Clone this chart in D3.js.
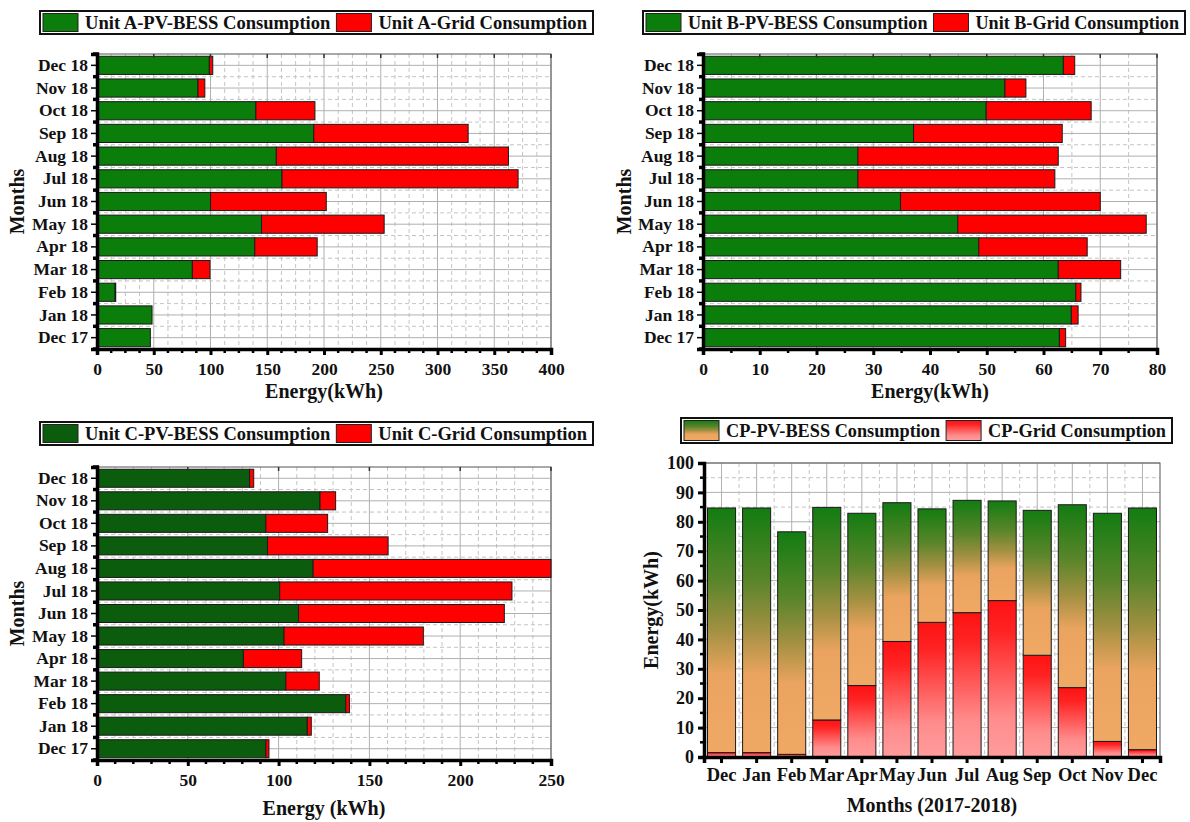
<!DOCTYPE html>
<html>
<head>
<meta charset="utf-8">
<script src="https://cdn.jsdelivr.net/npm/d3@7"></script>
<style>
  body { margin: 0; background: #fff; }
  text { font-family: "Liberation Serif", "Times New Roman", serif; font-weight: bold; fill: #111; }
</style>
</head>
<body>
<svg id="chart" width="1190" height="822"></svg>
<script>
// data
const monthsH = ["Dec 17", "Jan 18", "Feb 18", "Mar 18", "Apr 18", "May 18", "Jun 18",
  "Jul 18", "Aug 18", "Sep 18", "Oct 18", "Nov 18", "Dec 18"];

const unitA_pv = [47, 48.5, 16, 84, 139, 145, 100, 163, 158, 191, 140, 89, 99];
const unitA_grid = [0, 0, 0.5, 15.5, 55, 108, 102, 208, 204.5, 136, 52, 6, 3];

const unitB_pv = [62.8, 64.9, 65.7, 62.6, 48.6, 44.9, 34.8, 27.3, 27.3, 37.1, 49.9, 53.2, 63.5];
const unitB_grid = [1.1, 1.2, 0.9, 11.0, 19.1, 33.2, 35.2, 34.7, 35.3, 26.2, 18.5, 3.7, 2.0];

const unitC_pv = [93, 115.8, 137, 104, 80.6, 103, 111, 100.6, 119, 93.9, 93, 122.8, 84];
const unitC_grid = [1.7, 2.2, 2, 18.4, 32.1, 76.7, 113.3, 127.9, 131, 66.4, 34, 8.6, 2.3];

const monthsV = ["Dec", "Jan", "Feb", "Mar", "Apr", "May", "Jun", "Jul", "Aug", "Sep", "Oct", "Nov", "Dec"];
const cp_grid = [1.5, 1.5, 0.9, 12.6, 24.3, 39.3, 45.8, 49.1, 53.2, 34.6, 23.6, 5.3, 2.5];
const cp_pv = [83.2, 83.2, 75.7, 72.3, 58.6, 47.2, 38.6, 38.2, 33.9, 49.3, 62.2, 77.6, 82.2];

const svg = d3.select("#chart");
svg.append("rect").attr("width", 1190).attr("height", 822).attr("fill", "#fff");

// gradients for the CP panel
const defs = svg.append("defs");
const gPv = defs.append("linearGradient").attr("id", "gradPv")
  .attr("x1", 0).attr("y1", 0).attr("x2", 0).attr("y2", 1);
[[0, "#137c12"], [0.3, "#5a852a"], [0.5, "#a39042"], [0.68, "#eba45f"], [1, "#f0a865"]]
  .forEach(([o, c]) => gPv.append("stop").attr("offset", o).attr("stop-color", c));
const gGrid = defs.append("linearGradient").attr("id", "gradGrid")
  .attr("x1", 0).attr("y1", 0).attr("x2", 0).attr("y2", 1);
[[0, "#ff1212"], [0.2, "#ff2323"], [0.75, "#ff8c8c"], [1, "#ff9c9c"]]
  .forEach(([o, c]) => gGrid.append("stop").attr("offset", o).attr("stop-color", c));

const tickFont = "Liberation Serif, Times New Roman, serif";

// legend box of fixed width; texts squeezed/stretched slightly to fit it
function legend(x0, y0, w, h, items, fontSize) {
  const g = svg.append("g");
  g.append("rect").attr("x", x0).attr("y", y0).attr("width", w).attr("height", h)
    .attr("fill", "#fff").attr("stroke", "#111").attr("stroke-width", 2);
  const texts = items.map((it) => g.append("text").attr("font-size", fontSize)
    .attr("y", y0 + h / 2 + fontSize * 0.34).text(it.label));
  const natural = texts.map((t) => t.node().getComputedTextLength());
  const avail = w - items.length * 48 - 3;
  const k = avail / d3.sum(natural);
  let x = x0 + 3;
  items.forEach((it, i) => {
    g.append("rect").attr("x", x).attr("y", y0 + 2.5).attr("width", 35).attr("height", h - 5)
      .attr("fill", it.fill).attr("stroke", "#222").attr("stroke-width", 1);
    texts[i].attr("x", x + 42).attr("textLength", natural[i] * k)
      .attr("lengthAdjust", "spacingAndGlyphs");
    x += 42 + natural[i] * k + 6;
  });
}

function styleAxis(sel, size) {
  sel.select(".domain").attr("stroke", "#000").attr("stroke-width", 3.5);
  sel.selectAll("text").attr("font-size", size).attr("fill", "#111")
    .attr("font-family", tickFont).attr("font-weight", "bold");
}

function hPanel(o) {
  const x = d3.scaleLinear().domain([0, o.xMax]).range([o.left, o.right]);
  const y = d3.scaleBand().domain(monthsH).range([o.bottom, o.top])
    .paddingInner(0.2).paddingOuter(0.1);
  const step = y.step();
  const gap = (step - y.bandwidth()) / 2;
  const g = svg.append("g");

  // grid
  const minor = d3.range(0, o.xMax + 1e-6, o.xMajor / o.xMinorDiv)
    .filter((v, i) => i % o.xMinorDiv !== 0);
  g.selectAll(".vminor").data(minor).join("line")
    .attr("x1", (d) => x(d)).attr("x2", (d) => x(d)).attr("y1", o.top).attr("y2", o.bottom)
    .attr("stroke", "#c4c4c4").attr("stroke-dasharray", "4,3");
  g.selectAll(".vmajor").data(x.ticks(o.xMax / o.xMajor)).join("line")
    .attr("x1", (d) => x(d)).attr("x2", (d) => x(d)).attr("y1", o.top).attr("y2", o.bottom)
    .attr("stroke", "#b0b0b0");
  g.selectAll(".hminor").data(monthsH.slice(1)).join("line")
    .attr("x1", o.left).attr("x2", o.right)
    .attr("y1", (d) => y(d) + y.bandwidth() + gap).attr("y2", (d) => y(d) + y.bandwidth() + gap)
    .attr("stroke", "#c4c4c4").attr("stroke-dasharray", "4,3");
  g.selectAll(".hmajor").data(monthsH).join("line")
    .attr("x1", o.left).attr("x2", o.right)
    .attr("y1", (d) => y(d) + y.bandwidth() / 2).attr("y2", (d) => y(d) + y.bandwidth() / 2)
    .attr("stroke", "#b0b0b0");

  // frame
  g.append("rect").attr("x", o.left).attr("y", o.top)
    .attr("width", o.right - o.left).attr("height", o.bottom - o.top)
    .attr("fill", "none").attr("stroke", "#555").attr("stroke-width", 1);

  // bars
  g.selectAll(".pv").data(monthsH).join("rect")
    .attr("x", x(0)).attr("y", (d) => y(d))
    .attr("width", (d, i) => x(o.pv[i]) - x(0)).attr("height", y.bandwidth())
    .attr("fill", o.green).attr("stroke", "#1a1a1a").attr("stroke-width", 1);
  g.selectAll(".grid").data(monthsH).join("rect")
    .attr("x", (d, i) => x(o.pv[i])).attr("y", (d) => y(d))
    .attr("width", (d, i) => x(o.pv[i] + o.grid[i]) - x(o.pv[i])).attr("height", y.bandwidth())
    .attr("fill", "#ff0000").attr("stroke", "#1a1a1a").attr("stroke-width", 1)
    .attr("display", (d, i) => (o.grid[i] > 0 ? null : "none"));

  // bottom axis
  const xAxis = g.append("g").attr("transform", `translate(0,${o.bottom})`)
    .call(d3.axisBottom(x).ticks(o.xMax / o.xMajor).tickSize(6).tickPadding(8));
  styleAxis(xAxis, 17.5);
  xAxis.selectAll(".tick line").attr("stroke-width", 3);
  g.selectAll(".xminortick").data(minor).join("line")
    .attr("x1", (d) => x(d)).attr("x2", (d) => x(d)).attr("y1", o.bottom).attr("y2", o.bottom + 4)
    .attr("stroke", "#000").attr("stroke-width", 2.5);
  g.selectAll(".xtoptick").data(x.ticks(o.xMax / o.xMajor)).join("line")
    .attr("x1", (d) => x(d)).attr("x2", (d) => x(d)).attr("y1", o.top).attr("y2", o.top + 4)
    .attr("stroke", "#333").attr("stroke-width", 1.5);

  // left axis
  const yAxis = g.append("g").attr("transform", `translate(${o.left},0)`)
    .call(d3.axisLeft(y).tickSize(6).tickPadding(3));
  styleAxis(yAxis, 17.5);
  yAxis.selectAll(".tick line").attr("stroke-width", 1.5);
  const bounds = monthsH.map((d) => y(d) + y.bandwidth() + gap)
    .concat([y(monthsH[12]) - gap]);
  g.selectAll(".ybound").data(bounds).join("line")
    .attr("x1", o.left - 4).attr("x2", o.left + 2).attr("y1", (d) => d).attr("y2", (d) => d)
    .attr("stroke", "#000").attr("stroke-width", 3.5);

  // titles
  svg.append("text").attr("x", (o.left + o.right) / 2).attr("y", o.xTitleY)
    .attr("text-anchor", "middle").attr("font-size", 20).text(o.xTitle);
  svg.append("text").attr("transform", `translate(${o.yTitleX},${(o.top + o.bottom) / 2}) rotate(-90)`)
    .attr("text-anchor", "middle").attr("font-size", 20).text("Months");

  legend(o.legX, o.legY, o.legW, 23, [
    { fill: o.green, label: o.leg1 },
    { fill: "#ff0000", label: o.leg2 }
  ], 18.5);
}

hPanel({ left: 97, right: 551, top: 54, bottom: 349, xMax: 400, xMajor: 50, xMinorDiv: 4,
  pv: unitA_pv, grid: unitA_grid, green: "#0a7d0a",
  xTitle: "Energy(kWh)", xTitleY: 398, yTitleX: 24,
  legX: 40, legY: 11, legW: 553, leg1: "Unit A-PV-BESS Consumption", leg2: "Unit A-Grid Consumption" });

hPanel({ left: 703, right: 1157, top: 54, bottom: 349, xMax: 80, xMajor: 10, xMinorDiv: 2,
  pv: unitB_pv, grid: unitB_grid, green: "#0a7d0a",
  xTitle: "Energy(kWh)", xTitleY: 398, yTitleX: 631,
  legX: 643, legY: 11, legW: 542, leg1: "Unit B-PV-BESS Consumption", leg2: "Unit B-Grid Consumption" });

hPanel({ left: 97, right: 551, top: 467, bottom: 760, xMax: 250, xMajor: 50, xMinorDiv: 5,
  pv: unitC_pv, grid: unitC_grid, green: "#0b5c0d",
  xTitle: "Energy (kWh)", xTitleY: 815, yTitleX: 24,
  legX: 40, legY: 422, legW: 553, leg1: "Unit C-PV-BESS Consumption", leg2: "Unit C-Grid Consumption" });

// CP panel (vertical stacked bars)
(function () {
  const left = 704, right = 1160, top = 463, bottom = 757;
  const idx = d3.range(monthsV.length);
  const x = d3.scaleBand().domain(idx).range([left, right]).paddingInner(0.2).paddingOuter(0.1);
  const y = d3.scaleLinear().domain([0, 100]).range([bottom, top]);
  const gap = (x.step() - x.bandwidth()) / 2;
  const g = svg.append("g");

  g.selectAll(".hminor").data(d3.range(5, 100, 10)).join("line")
    .attr("x1", left).attr("x2", right).attr("y1", (d) => y(d)).attr("y2", (d) => y(d))
    .attr("stroke", "#c4c4c4").attr("stroke-dasharray", "4,3");
  g.selectAll(".hmajor").data(d3.range(10, 101, 10)).join("line")
    .attr("x1", left).attr("x2", right).attr("y1", (d) => y(d)).attr("y2", (d) => y(d))
    .attr("stroke", "#b0b0b0");
  g.selectAll(".vminor").data(idx.slice(1)).join("line")
    .attr("x1", (d) => x(d) - gap).attr("x2", (d) => x(d) - gap)
    .attr("y1", top).attr("y2", bottom)
    .attr("stroke", "#c4c4c4").attr("stroke-dasharray", "4,3");
  g.selectAll(".vmajor").data(idx).join("line")
    .attr("x1", (d) => x(d) + x.bandwidth() / 2).attr("x2", (d) => x(d) + x.bandwidth() / 2)
    .attr("y1", top).attr("y2", bottom).attr("stroke", "#b0b0b0");
  g.append("rect").attr("x", left).attr("y", top).attr("width", right - left).attr("height", bottom - top)
    .attr("fill", "none").attr("stroke", "#555");

  g.selectAll(".gridbar").data(idx).join("rect")
    .attr("x", (d) => x(d)).attr("y", (d) => y(cp_grid[d]))
    .attr("width", x.bandwidth()).attr("height", (d) => y(0) - y(cp_grid[d]))
    .attr("fill", "url(#gradGrid)").attr("stroke", "#1a1a1a").attr("stroke-width", 1);
  g.selectAll(".pvbar").data(idx).join("rect")
    .attr("x", (d) => x(d)).attr("y", (d) => y(cp_grid[d] + cp_pv[d]))
    .attr("width", x.bandwidth()).attr("height", (d) => y(cp_grid[d]) - y(cp_grid[d] + cp_pv[d]))
    .attr("fill", "url(#gradPv)").attr("stroke", "#1a1a1a").attr("stroke-width", 1);

  const xAxis = g.append("g").attr("transform", `translate(0,${bottom})`)
    .call(d3.axisBottom(x).tickFormat((i) => monthsV[i]).tickSize(6).tickPadding(5));
  styleAxis(xAxis, 18.5);
  xAxis.selectAll(".tick line").attr("stroke-width", 3);

  const yAxis = g.append("g").attr("transform", `translate(${left},0)`)
    .call(d3.axisLeft(y).tickValues(d3.range(0, 101, 10)).tickSize(6).tickPadding(4));
  styleAxis(yAxis, 18);
  yAxis.selectAll(".tick line").attr("stroke-width", 3);
  g.selectAll(".yminortick").data(d3.range(5, 100, 10)).join("line")
    .attr("x1", left - 4).attr("x2", left).attr("y1", (d) => y(d)).attr("y2", (d) => y(d))
    .attr("stroke", "#000").attr("stroke-width", 2.5);

  svg.append("text").attr("x", (left + right) / 2).attr("y", 812)
    .attr("text-anchor", "middle").attr("font-size", 20).text("Months (2017-2018)");
  svg.append("text").attr("transform", `translate(658,${(top + bottom) / 2}) rotate(-90)`)
    .attr("text-anchor", "middle").attr("font-size", 20).text("Energy(kWh)");

  legend(681, 418, 491, 25, [
    { fill: "url(#gradPv)", label: "CP-PV-BESS Consumption" },
    { fill: "url(#gradGrid)", label: "CP-Grid Consumption" }
  ], 18.5);
})();
</script>
</body>
</html>
